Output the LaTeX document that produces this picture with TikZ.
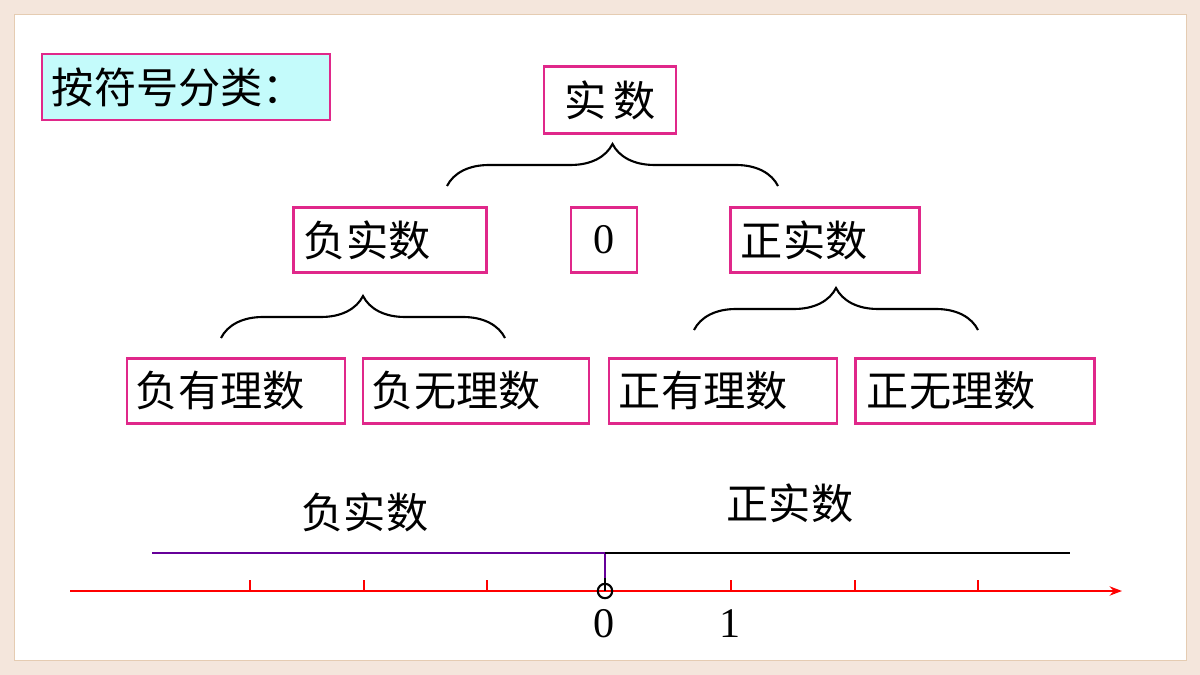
\documentclass[tikz,border=0pt]{standalone}
\usepackage{fontspec}
\newfontfamily\cjk{Noto Sans CJK SC}
\setmainfont{Liberation Serif}
\usetikzlibrary{decorations.pathreplacing,arrows.meta}
\definecolor{boxpink}{HTML}{E0288A}
\definecolor{titlecyan}{HTML}{C4FBFB}
\definecolor{framebg}{HTML}{F4E6DC}
\tikzset{
  numbox/.style={draw=boxpink,line width=1.8pt,inner sep=0pt,font=\cjk\fontsize{30}{30}\selectfont},
  numbrace/.style={decorate,decoration={brace,amplitude=1.05cm,aspect=0.5},line width=1.5pt},
  tick/.style={red,line width=1.2pt}
}
\begin{document}
\begin{tikzpicture}[x=0.025cm,y=-0.025cm,>=Stealth]
% background
\fill [framebg] (0,0) rectangle (1200,675);
\fill [white,draw=brown!40] (14,14) rectangle (1186,660);
\useasboundingbox (0,0) rectangle (1200,675);
% title
\node [numbox,fill=titlecyan,minimum width=7.2cm,minimum height=1.65cm,text width=6.7cm] (title) at (186,87) {按符号分类：};
% tree
\node [numbox,minimum width=3.3cm,minimum height=1.68cm] (real) at (610,100) {实\,数};
\node [numbox,minimum width=4.83cm,minimum height=1.63cm,text width=4.3cm] (neg) at (390,240) {负实数};
\node [numbox,minimum width=1.65cm,minimum height=1.63cm,font=\fontsize{30}{30}\selectfont] (zero) at (604,240) {0};
\node [numbox,minimum width=4.73cm,minimum height=1.63cm,text width=4.2cm] (pos) at (825,240) {正实数};
\node [numbox,minimum width=5.45cm,minimum height=1.63cm,text width=5.0cm] (negrat) at (236,391) {负有理数};
\node [numbox,minimum width=5.65cm,minimum height=1.63cm,text width=5.2cm] (negirr) at (476,391) {负无理数};
\node [numbox,minimum width=5.7cm,minimum height=1.63cm,text width=5.2cm] (posrat) at (723,391) {正有理数};
\node [numbox,minimum width=5.98cm,minimum height=1.63cm,text width=5.4cm] (posirr) at (975,391) {正无理数};
% braces
\coordinate (b1l) at (447,186); \coordinate (b1r) at (778,186);
\coordinate (b2l) at (221,338); \coordinate (b2r) at (505,338);
\coordinate (b3l) at (694,330); \coordinate (b3r) at (978,330);
\draw [numbrace] (b1l) -- (b1r);
\draw [numbrace] (b2l) -- (b2r);
\draw [numbrace] (b3l) -- (b3r);
% number line
\coordinate (lstart) at (70,591); \coordinate (lend) at (1122,591);
\coordinate (origin) at (605,591);
\draw [red,line width=1.3pt,->] (lstart) -- (lend);
\foreach \t in {250,364,487,731,855,978} \draw [tick] (\t,591) -- (\t,580);
\draw [black,line width=1.3pt] (origin) -- (605,578);
\draw [line width=1.5pt] (origin) circle (0.18cm);
\node [font=\fontsize{30}{30}\selectfont] (lab0) at (604,624) {0};
\node [font=\fontsize{30}{30}\selectfont] (lab1) at (730,624) {1};
\draw [violet!80!blue,line width=2pt] (152,553) -- (605,553) -- (605,578);
\draw [black,line width=2pt] (605,553) -- (1070,553);
\node [font=\cjk\fontsize{30}{30}\selectfont] (negtxt) at (365,512) {负实数};
\node [font=\cjk\fontsize{30}{30}\selectfont] (postxt) at (790,503) {正实数};
\end{tikzpicture}
\end{document}
